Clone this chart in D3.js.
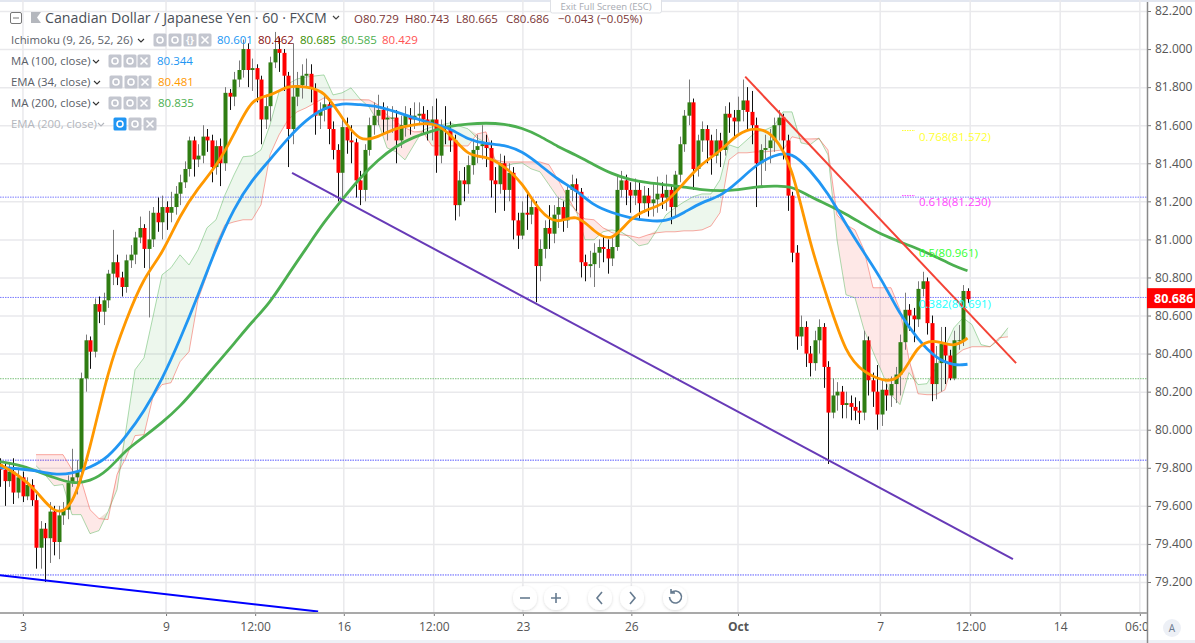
<!DOCTYPE html>
<html><head><meta charset="utf-8">
<script src="https://cdn.jsdelivr.net/npm/d3@7"></script>
<style>
html,body{margin:0;padding:0;background:#fff;overflow:hidden}
svg{display:block}
text{font-family:"Open Sans","Noto Sans",sans-serif}
</style></head><body><div id="chart"></div>
<script>
// ---------- data ----------
const firstOpen = 79.82;
const closes = [
79.79,79.73,79.78,79.67,79.75,79.65,79.71,79.63,79.38,79.48,
79.43,79.57,79.41,79.55,79.58,79.72,79.75,79.78,80.27,80.47,
80.41,80.66,80.62,80.68,80.82,80.88,80.80,80.75,80.89,80.92,
81.01,81.06,80.95,81.00,81.14,81.09,81.17,81.14,81.17,81.24,
81.30,81.37,81.52,81.42,81.44,81.54,81.52,81.38,81.49,81.40,
81.77,81.75,81.84,81.89,82.00,81.89,81.90,81.84,81.63,81.70,
81.93,82.00,81.98,81.86,81.58,81.75,81.81,81.86,81.87,81.79,
81.65,81.68,81.71,81.58,81.47,81.35,81.59,81.52,81.51,81.31,
81.26,81.47,81.60,81.65,81.68,81.63,81.64,81.64,81.52,81.60,
81.65,81.63,81.65,81.66,81.63,81.60,81.63,81.44,81.59,81.58,
81.52,81.18,81.31,81.29,81.39,81.47,81.49,81.50,81.48,81.31,
81.29,81.40,81.26,81.35,81.10,81.02,81.14,81.13,81.17,80.86,
80.95,81.06,81.03,81.13,81.17,81.10,81.26,81.29,81.25,80.88,
80.86,80.87,80.93,80.96,80.95,80.90,80.96,81.26,81.31,81.26,
81.23,81.26,81.19,81.23,81.19,81.21,81.24,81.22,81.26,81.17,
81.34,81.50,81.65,81.72,81.37,81.52,81.58,81.52,81.44,81.52,
81.47,81.66,81.64,81.62,81.68,81.73,81.67,81.60,81.40,81.47,
81.48,81.52,81.60,81.64,81.52,81.23,80.93,80.49,80.54,80.40,
80.35,80.47,80.54,80.33,80.09,80.18,80.20,80.13,80.14,80.12,
80.10,80.09,80.47,80.26,80.20,80.08,80.21,80.18,80.24,80.29,
80.46,80.63,80.60,80.58,80.74,80.78,80.56,80.24,80.35,80.45,
80.39,80.27,80.47,80.47,80.729,80.686];
const highs = [
79.85,79.82,79.82,79.85,79.80,79.78,79.75,79.74,79.66,79.52,
79.51,79.62,79.60,79.60,79.62,79.76,79.90,79.84,80.30,80.50,
80.49,80.69,80.70,80.72,80.84,81.05,80.92,80.83,80.92,80.97,
81.04,81.12,81.08,81.15,81.17,81.22,81.23,81.20,81.25,81.28,
81.34,81.41,81.54,81.54,81.50,81.60,81.58,81.55,81.52,81.53,
81.80,81.79,81.88,81.94,82.05,82.03,81.95,81.92,81.86,81.76,
81.96,82.09,82.06,82.00,81.88,82.03,81.88,81.92,81.95,81.92,
81.82,81.72,81.76,81.74,81.62,81.50,81.63,81.64,81.60,81.53,
81.36,81.50,81.64,81.72,81.76,81.72,81.70,81.70,81.68,81.65,
81.70,81.69,81.72,81.72,81.70,81.68,81.70,81.74,81.63,81.70,
81.62,81.55,81.36,81.38,81.44,81.52,81.55,81.60,81.55,81.52,
81.38,81.45,81.44,81.40,81.38,81.14,81.20,81.25,81.22,81.20,
81.00,81.10,81.18,81.18,81.22,81.20,81.28,81.34,81.32,81.27,
80.92,80.94,80.98,81.00,81.02,81.00,81.02,81.34,81.36,81.34,
81.30,81.32,81.30,81.28,81.27,81.30,81.33,81.30,81.34,81.28,
81.36,81.54,81.68,81.84,81.74,81.55,81.62,81.60,81.55,81.58,
81.56,81.70,81.72,81.68,81.75,81.84,81.80,81.78,81.64,81.50,
81.55,81.58,81.64,81.68,81.66,81.55,81.25,80.97,80.60,80.57,
80.44,80.52,80.58,80.56,80.36,80.27,80.25,80.23,80.20,80.18,
80.17,80.15,80.52,80.49,80.30,80.34,80.26,80.24,80.28,80.33,
80.50,80.72,80.66,80.64,80.78,80.83,80.80,80.60,80.44,80.54,
80.54,80.42,80.52,80.55,80.76,80.743];
const lows = [
79.70,79.60,79.70,79.61,79.64,79.62,79.63,79.60,79.27,79.27,
79.20,79.30,79.34,79.32,79.50,79.53,79.70,79.66,79.72,80.20,
80.32,80.38,80.56,80.55,80.64,80.76,80.76,80.70,80.72,80.85,
80.87,80.98,80.85,80.59,80.96,81.04,81.00,81.05,81.09,81.13,
81.18,81.27,81.33,81.33,81.38,81.40,81.46,81.30,81.34,81.28,
81.36,81.68,81.70,81.80,81.85,81.80,81.78,81.72,81.50,81.58,
81.62,81.90,81.88,81.78,81.38,81.50,81.70,81.74,81.80,81.72,
81.55,81.58,81.62,81.50,81.42,81.20,81.22,81.45,81.40,81.22,
81.18,81.20,81.44,81.55,81.60,81.55,81.52,81.56,81.40,81.48,
81.54,81.55,81.58,81.60,81.55,81.52,81.52,81.35,81.40,81.50,
81.46,81.10,81.12,81.20,81.24,81.34,81.40,81.42,81.38,81.22,
81.14,81.24,81.15,81.20,81.00,80.95,81.00,81.05,81.08,80.67,
80.78,80.90,80.95,80.98,81.06,81.04,81.06,81.20,81.15,80.80,
80.78,80.80,80.75,80.85,80.88,80.82,80.86,80.94,81.22,81.18,
81.14,81.18,81.10,81.14,81.12,81.12,81.14,81.16,81.15,81.08,
81.12,81.30,81.46,81.60,81.26,81.33,81.46,81.40,81.34,81.40,
81.38,81.44,81.56,81.54,81.56,81.62,81.58,81.50,81.17,81.28,
81.36,81.40,81.46,81.52,81.42,81.15,80.88,80.42,80.44,80.33,
80.28,80.31,80.40,80.22,79.82,80.06,80.10,80.06,80.06,80.05,
80.05,80.03,80.05,80.18,80.12,80.00,80.02,80.10,80.12,80.14,
80.18,80.42,80.52,80.46,80.54,80.70,80.50,80.15,80.16,80.20,
80.24,80.26,80.26,80.42,80.44,80.665];

// sampled every 4th candle, last sample on the last candle
const ma100 = [
79.801,79.796,79.785,79.764,79.769,79.801,79.853,79.964,80.095,80.263,
80.473,80.704,80.956,81.166,81.313,81.418,81.533,81.628,81.691,81.717,
81.707,81.701,81.670,81.638,81.607,81.586,81.523,81.502,81.497,81.465,
81.392,81.313,81.260,81.176,81.140,81.113,81.098,81.092,81.140,81.197,
81.224,81.302,81.392,81.444,81.460,81.365,81.245,81.077,80.930,80.788,
80.604,80.473,80.373,80.336,80.344];
const ema34 = [
79.817,79.764,79.685,79.554,79.580,79.895,80.315,80.578,80.804,80.919,
81.129,81.271,81.381,81.549,81.749,81.749,81.812,81.801,81.785,81.638,
81.507,81.539,81.586,81.602,81.617,81.560,81.434,81.439,81.386,81.302,
81.140,81.077,81.140,81.040,80.982,81.113,81.160,81.187,81.297,81.402,
81.460,81.560,81.591,81.554,81.392,80.972,80.683,80.394,80.300,80.258,
80.252,80.457,80.473,80.431,80.481];
const ma200 = [
79.832,79.817,79.785,79.748,79.717,79.727,79.785,79.895,79.963,80.037,
80.121,80.231,80.342,80.452,80.567,80.667,80.814,80.951,81.092,81.208,
81.323,81.418,81.491,81.539,81.570,81.596,81.607,81.612,81.607,81.586,
81.544,81.486,81.444,81.392,81.344,81.313,81.297,81.287,81.276,81.260,
81.255,81.260,81.276,81.281,81.281,81.224,81.182,81.134,81.077,81.024,
80.987,80.951,80.908,80.861,80.835];

// Ichimoku spans, every 2nd candle from candle 8 (projected past the last candle)
const spanA = [
79.811,79.764,79.706,79.712,79.554,79.554,79.454,79.470,79.570,79.685,
80.000,80.315,80.378,80.594,80.814,80.851,80.919,80.866,80.945,81.061,
81.103,81.234,81.339,81.434,81.439,81.470,81.602,81.775,81.817,81.843,
81.853,81.859,81.864,81.759,81.770,81.796,81.738,81.696,81.617,81.481,
81.460,81.418,81.497,81.575,81.591,81.602,81.612,81.596,81.581,81.533,
81.507,81.418,81.381,81.397,81.402,81.371,81.355,81.287,81.218,81.197,
81.155,80.998,80.998,81.040,81.050,81.040,81.008,80.966,80.977,81.050,
81.129,81.166,81.197,81.224,81.239,81.239,81.313,81.497,81.481,81.523,
81.565,81.575,81.596,81.670,81.670,81.507,81.497,81.533,81.444,80.998,
80.709,80.693,80.525,80.410,80.300,80.184,80.132,80.300,80.237,80.242,
80.326,80.436,80.536,80.588,80.552,80.447,80.436,80.473,80.536];
const spanB = [
79.869,79.869,79.869,79.869,79.790,79.738,79.580,79.533,79.528,79.764,
79.853,79.969,79.974,80.174,80.237,80.247,80.357,80.410,80.683,80.814,
80.972,81.077,81.092,81.103,81.103,81.182,81.444,81.549,81.628,81.670,
81.691,81.717,81.743,81.733,81.733,81.733,81.733,81.733,81.707,81.654,
81.617,81.586,81.565,81.565,81.491,81.491,81.491,81.491,81.491,81.554,
81.565,81.418,81.407,81.407,81.407,81.407,81.407,81.392,81.313,81.229,
81.145,81.108,81.103,81.061,81.035,81.024,81.019,81.008,81.024,81.035,
81.040,81.040,81.045,81.045,81.050,81.071,81.140,81.418,81.455,81.455,
81.460,81.460,81.465,81.470,81.539,81.528,81.528,81.528,81.470,81.129,
81.077,81.050,80.945,80.746,80.746,80.746,80.630,80.368,80.189,80.184,
80.184,80.210,80.384,80.420,80.436,80.436,80.436,80.483,80.488];

// trend lines [candle, price]
const redTrend = [[165.6,81.855],[225.8,80.35]];
const purpleTrend = [[64.9,81.35],[225.1,79.32]];
const blueTrend = [[0,79.235],[70.7,79.045]];
const dottedLevels = [
  {price:81.222,color:"#7b7bff"},{price:80.695,color:"#7b7bff"},{price:80.268,color:"#7cc27c"},
  {price:79.84,color:"#5a5aff"},{price:79.237,color:"#5a5aff"}];
const fibLabels = ["0.768(81.572)","0.618(81.230)","0.5(80.961)","0.382(80.691)"];
const fibPrices = [81.572,81.230,80.961,80.691];
const fibColors = ["#ffff33","#ff44ff","#33ff33","#22ffff"];

const priceTicks = [82.2,82,81.8,81.6,81.4,81.2,81,80.8,80.6,80.4,80.2,80,79.8,79.6,79.4,79.2];
const timeTickLabels = ["3","9","12:00","16","12:00","23","26","Oct","7","12:00","14","06:00"];
const timeTickCandles = [5.1,36.9,56.7,76.4,96.4,116.2,140.3,164,195.6,215.6,235.6,253.3];
const lastPrice = 80.686;

const titleText = "Canadian Dollar / Japanese Yen · 60 · FXCM";
const ohlcLabels = ["O80.729","H80.743","L80.665","C80.686","−0.043 (−0.05%)"];
const legendRows = ["Ichimoku (9, 26, 52, 26)","MA (100, close)","EMA (34, close)","MA (200, close)","EMA (200, close)"];
const ichimokuValues = ["80.601","80.462","80.685","80.585","80.429"];
const ichimokuColors = ["#2196f3","#880e0e","#388e00","#4caf50","#ff5252"];
const indicatorValues = ["80.344","80.481","80.835"];
const indicatorColors = ["#2196f3","#ff9800","#4caf50"];

// ---------- drawing ----------
const W=1195,H=643,axisX=1147,axisY=613;
const x=d3.scaleLinear().domain([0,265]).range([0,1192.5]);
const y=d3.scaleLinear().domain([79.2,82.2]).range([582,11]);
const svg=d3.select("#chart").append("svg").attr("width",W).attr("height",H);
const defs=svg.append("defs");
defs.append("clipPath").attr("id","plot").append("rect").attr("width",axisX).attr("height",axisY);
defs.append("clipPath").attr("id","xclip").append("rect").attr("x",0).attr("y",axisY).attr("width",axisX).attr("height",H-axisY);
const f=defs.append("filter").attr("id","sh").attr("x","-30%").attr("y","-30%").attr("width","160%").attr("height","160%");
f.append("feDropShadow").attr("dx",0).attr("dy",1).attr("stdDeviation",1.5).attr("flood-color","#000").attr("flood-opacity",.15);

svg.append("rect").attr("width",W).attr("height",2).attr("fill","#e3e7f0");
svg.append("rect").attr("y",H-3).attr("width",W).attr("height",3).attr("fill","#eef0f6");

const plot=svg.append("g").attr("clip-path","url(#plot)");
// grid
plot.append("g").selectAll("line").data(priceTicks).join("line")
 .attr("x1",0).attr("x2",axisX).attr("y1",d=>y(d)+.5).attr("y2",d=>y(d)+.5)
 .attr("stroke","#e9e9ec").attr("stroke-width",1.5);
plot.append("g").selectAll("line").data(timeTickCandles).join("line")
 .attr("x1",d=>x(d)).attr("x2",d=>x(d)).attr("y1",0).attr("y2",axisY)
 .attr("stroke","#e9e9ec").attr("stroke-width",1.5);
// dotted levels
plot.append("g").selectAll("line").data(dottedLevels).join("line")
 .attr("x1",0).attr("x2",axisX).attr("y1",d=>y(d.price)).attr("y2",d=>y(d.price))
 .attr("stroke",d=>d.color).attr("stroke-width",1).attr("stroke-dasharray","1.5 1");

// Ichimoku cloud
const spanIdx=i=>8+2*i;
const cloud=spanA.map((a,i)=>({i:spanIdx(i),a,b:spanB[i]}));
plot.append("path").datum(cloud)
 .attr("d",d3.area().x(d=>x(d.i)).y0(d=>y(d.b)).y1(d=>y(Math.max(d.a,d.b))))
 .attr("fill","rgba(76,175,80,.1)");
plot.append("path").datum(cloud)
 .attr("d",d3.area().x(d=>x(d.i)).y0(d=>y(d.a)).y1(d=>y(Math.max(d.a,d.b))))
 .attr("fill","rgba(244,67,54,.12)");
plot.append("path").datum(cloud).attr("fill","none").attr("stroke","rgba(76,175,80,.45)").attr("stroke-width",1)
 .attr("d",d3.line().x(d=>x(d.i)).y(d=>y(d.a)));
plot.append("path").datum(cloud).attr("fill","none").attr("stroke","rgba(244,67,54,.45)").attr("stroke-width",1)
 .attr("d",d3.line().x(d=>x(d.i)).y(d=>y(d.b)));

// candles
const candles=closes.map((c,i)=>({i,o:i?closes[i-1]:firstOpen,h:highs[i],l:lows[i],c}));
const cg=plot.append("g");
cg.selectAll("line").data(candles).join("line")
 .attr("x1",d=>Math.round(x(d.i))+.5).attr("x2",d=>Math.round(x(d.i))+.5)
 .attr("y1",d=>y(d.h)).attr("y2",d=>y(d.l))
 .attr("stroke",d=>d.c>=d.o?"#7a7a7a":"#111").attr("stroke-width",1);
cg.selectAll("rect").data(candles).join("rect")
 .attr("x",d=>Math.round(x(d.i))-1.5).attr("width",4)
 .attr("y",d=>y(Math.max(d.o,d.c))).attr("height",d=>Math.max(1,Math.abs(y(d.o)-y(d.c))))
 .attr("fill",d=>d.c>=d.o?"#2f7d12":"#ff0000");

// moving averages
const maLine=d3.line().x((d,i)=>x(Math.min(4*i,215))).y(d=>y(d)).curve(d3.curveBasis);
[[ma200,"#4caf50"],[ma100,"#2196f3"],[ema34,"#ff9800"]].forEach(([s,c])=>{
 plot.append("path").datum(s).attr("d",maLine).attr("fill","none").attr("stroke",c).attr("stroke-width",2.8).attr("stroke-linejoin","round");
});

// trend lines
const tl=d3.line().x(d=>x(d[0])).y(d=>y(d[1]));
[[redTrend,"#f44336"],[purpleTrend,"#673ab7"],[blueTrend,"#0000ff"]].forEach(([s,c])=>{
 plot.append("path").datum(s).attr("d",tl).attr("fill","none").attr("stroke",c).attr("stroke-width",2);
});

// fib labels
const fibG=svg.append("g");
fibLabels.forEach((t,i)=>{
 fibG.append("text").attr("x",919).attr("y",y(fibPrices[i])+10).text(t)
  .attr("fill",fibColors[i]).attr("font-size",11.5).attr("font-weight",500);
});
[0,1].forEach(i=>{
 fibG.append("line").attr("x1",902).attr("x2",915).attr("y1",y(fibPrices[i])).attr("y2",y(fibPrices[i]))
  .attr("stroke",fibColors[i]).attr("stroke-width",1).attr("stroke-dasharray","1.5 1");
});

// axes
const yAxis=d3.axisRight(y).tickValues(priceTicks).tickFormat(d3.format(".3f")).tickSize(4).tickPadding(4);
const gy=svg.append("g").attr("transform",`translate(${axisX},0)`).call(yAxis);
gy.select(".domain").remove();
gy.selectAll("line").attr("stroke","#777");
gy.selectAll("text").attr("fill","#555").attr("font-size",12);
svg.append("line").attr("x1",axisX+.5).attr("x2",axisX+.5).attr("y1",2).attr("y2",H).attr("stroke","#8a8a8a").attr("stroke-width",1.5);

const xAxis=d3.axisBottom(x).tickValues(timeTickCandles).tickFormat((d,i)=>timeTickLabels[i]).tickSize(3).tickPadding(6);
const gx=svg.append("g").attr("clip-path","url(#xclip)").append("g").attr("transform",`translate(0,${axisY})`).call(xAxis);
gx.select(".domain").remove();
gx.selectAll("line").attr("stroke","#777");
gx.selectAll("text").attr("fill","#555").attr("font-size",12)
 .attr("font-weight",(d,i)=>timeTickLabels[i]==="Oct"?700:400);
svg.append("line").attr("x1",0).attr("x2",axisX).attr("y1",axisY).attr("y2",axisY).attr("stroke","#a9a9a9").attr("stroke-width",2);

// last price tag
svg.append("rect").attr("x",axisX).attr("y",y(lastPrice)-11).attr("width",48).attr("height",20).attr("fill","#ff0000");
svg.append("text").attr("x",axisX+7).attr("y",y(lastPrice)+3.5).text(d3.format(".3f")(lastPrice))
 .attr("fill","#fff").attr("font-size",12.5).attr("font-weight",700);

// auto-scale badge
svg.append("circle").attr("cx",1172).attr("cy",628).attr("r",9).attr("fill","#edf0f6");
svg.append("text").attr("x",1172).attr("y",632).attr("text-anchor","middle").text("A").attr("fill","#6b7a8f").attr("font-size",10);

// zoom / scroll buttons
const btn=svg.append("g");
[525,556,600,632,675].forEach(cx=>btn.append("circle").attr("cx",cx).attr("cy",598).attr("r",12).attr("fill","#fff").attr("filter","url(#sh)"));
const ic=btn.append("g").attr("fill","none").attr("stroke","#667b90").attr("stroke-width",1.6);
ic.append("path").attr("d","M520 598h10");
ic.append("path").attr("d","M551 598h10M556 593v10");
ic.append("path").attr("d","M602 592l-5 6 5 6");
ic.append("path").attr("d","M630 592l5 6-5 6");
ic.append("path").attr("d","M671 593a6 6 0 1 1-1.5 4M671 589v4h4");

// header
const head=svg.append("g");
head.append("rect").attr("x",10.5).attr("y",12.5).attr("width",11).attr("height",11).attr("rx",1.5).attr("fill","none").attr("stroke","#777");
head.append("path").attr("d","M13 18h6").attr("stroke","#777");
head.append("path").attr("d","M31 12h10l-4 5.5 4 5.5h-10z").attr("fill","#b4b7bd");
head.append("text").attr("x",45).attr("y",23).text(titleText).attr("fill","#4a4f57").attr("font-size",14.2);
head.append("path").attr("d","M333 16l3 3 3-3").attr("fill","none").attr("stroke","#444").attr("stroke-width",1.2);
const ohlcX=[354,405,456,506,558];
ohlcLabels.forEach((t,i)=>head.append("text").attr("x",ohlcX[i]).attr("y",23).text(t).attr("fill","#7a3535").attr("font-size",11.5));
head.append("rect").attr("x",550.5).attr("y",-3).attr("width",111).attr("height",16).attr("rx",2).attr("fill","#fff").attr("stroke","#dfe1e6");
head.append("text").attr("x",606).attr("y",9.5).attr("text-anchor","middle").text("Exit Full Screen (ESC)").attr("fill","#a8abb2").attr("font-size",9.5);

// legend rows
const rowY=[40,61,82,103,124], iconX=[[160,175,190,205],[115,130,144],[116,131,145],[115,130,144],[120,135,150]];
const caretX=[141,96,97,96,101];
legendRows.forEach((t,i)=>{
 const faded=i===4, col=faded?"#b3b6bd":"#5a6068";
 const g=svg.append("g");
 g.append("text").attr("x",11).attr("y",rowY[i]+4).text(t).attr("fill",col).attr("font-size",11.4);
 g.append("path").attr("d",`M${caretX[i]-3} ${rowY[i]-1}l3 3 3-3`).attr("fill","none").attr("stroke",faded?"#b3b6bd":"#333").attr("stroke-width",1.1);
 iconX[i].forEach((cx,k)=>{
  const blue=faded&&k===0;
  g.append("rect").attr("x",cx-6.5).attr("y",rowY[i]-6.5).attr("width",13).attr("height",13).attr("rx",1.5).attr("fill",blue?"#2196f3":"#c3c6cf");
  const last=k===iconX[i].length-1, brace=i===0&&k===2;
  if(last) g.append("path").attr("d",`M${cx-3.5} ${rowY[i]-3.5}l7 7m0-7l-7 7`).attr("stroke","#fff").attr("stroke-width",1.6);
  else if(brace) g.append("text").attr("x",cx).attr("y",rowY[i]+3.5).attr("text-anchor","middle").text("{}").attr("fill","#fff").attr("font-size",10).attr("font-weight",700);
  else g.append("circle").attr("cx",cx).attr("cy",rowY[i]).attr("r",3).attr("fill","none").attr("stroke","#fff").attr("stroke-width",1.6);
 });
});
const ichiX=[217,258,300,341,382];
ichimokuValues.forEach((t,i)=>svg.append("text").attr("x",ichiX[i]).attr("y",44).text(t).attr("fill",ichimokuColors[i]).attr("font-size",11.5));
const indX=[157,158,158];
indicatorValues.forEach((t,i)=>svg.append("text").attr("x",indX[i]).attr("y",rowY[i+1]+4).text(t).attr("fill",indicatorColors[i]).attr("font-size",11.5));
</script></body></html>
